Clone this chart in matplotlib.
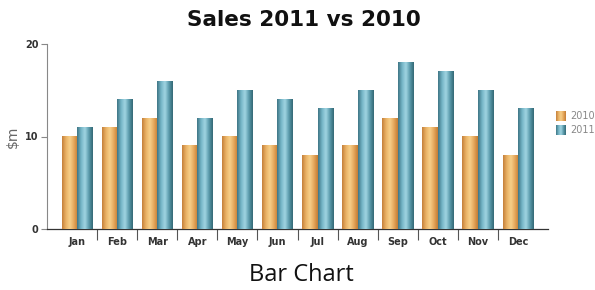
import matplotlib
matplotlib.use("Agg")
import matplotlib.pyplot as plt
import numpy as np
from matplotlib.colors import LinearSegmentedColormap

months = ["Jan", "Feb", "Mar", "Apr", "May", "Jun", "Jul", "Aug", "Sep", "Oct", "Nov", "Dec"]
sales_2010 = [10, 11, 12, 9, 10, 9, 8, 9, 12, 11, 10, 8]
sales_2011 = [11, 14, 16, 12, 15, 14, 13, 15, 18, 17, 15, 13]
series_names = ["2010", "2011"]
y_ticks = [0, 10, 20]

orange_cmap = LinearSegmentedColormap.from_list(
    "org", ["#c47f3a", "#eab366", "#f7d08a", "#e6a85c", "#c47c34"])
teal_cmap = LinearSegmentedColormap.from_list(
    "teal", ["#3e7584", "#74b4c6", "#a2d6e3", "#5b9bac", "#336874"])

fig = plt.figure(figsize=(5.95, 2.9), dpi=100)
ax = fig.add_axes([47/595, 1 - 229/290, (548-47)/595, (229-44)/290])

x = np.arange(len(months))
w = 0.385
bars1 = ax.bar(x - w/2, sales_2010, w, color="#e9ad60", zorder=2)
bars2 = ax.bar(x + w/2, sales_2011, w, color="#6fb0c2", zorder=2)

grad = np.linspace(0, 1, 64).reshape(1, -1)
for bars, cmap in ((bars1, orange_cmap), (bars2, teal_cmap)):
    for b in bars:
        x0, y0 = b.get_x(), b.get_y()
        ax.imshow(grad, cmap=cmap, aspect="auto", zorder=3,
                  extent=(x0, x0 + b.get_width(), y0, y0 + b.get_height()),
                  interpolation="bicubic")

ax.set_xlim(-0.75, 11.75)
ax.set_ylim(0, 20)

for s in ["top", "right"]:
    ax.spines[s].set_visible(False)
ax.spines["left"].set_color("#888888")
ax.spines["left"].set_linewidth(0.8)
ax.spines["bottom"].set_color("#333333")
ax.spines["bottom"].set_linewidth(0.9)

ax.set_yticks(y_ticks)
ax.set_yticklabels([str(v) for v in y_ticks], fontsize=7, fontweight="bold", color="#333333")
ax.tick_params(axis="y", length=4, width=0.8, color="#888888", pad=2)

ax.set_xticks(x)
ax.set_xticklabels(months, fontsize=7, fontweight="bold", color="#333333")
ax.tick_params(axis="x", which="major", length=0, pad=6)
ax.set_xticks(np.arange(0.5, 11.5, 1), minor=True)
ax.tick_params(axis="x", which="minor", length=8, width=0.8, color="#555555")

ax.set_ylabel("$m", fontsize=10, color="#666666", labelpad=4)

fig.text(304/595, 1 - 20/290, "Sales 2011 vs 2010", ha="center", va="center",
         fontsize=15.5, fontweight="bold", color="#111111")
fig.text(301/595, 1 - 275/290, "Bar Chart", ha="center", va="center",
         fontsize=17, color="#111111", family="Open Sans")

# legend
for i, (name, cmap) in enumerate(zip(series_names, (orange_cmap, teal_cmap))):
    yc = 1 - (116 + i * 14) / 290
    lax = fig.add_axes([556/595, yc - 5/290, 10/595, 10/290])
    lax.imshow(grad, cmap=cmap, aspect="auto", interpolation="bicubic")
    lax.axis("off")
    fig.text(570/595, yc, name, ha="left", va="center", fontsize=7, color="#888888")

fig.savefig("out.png", dpi=100)
